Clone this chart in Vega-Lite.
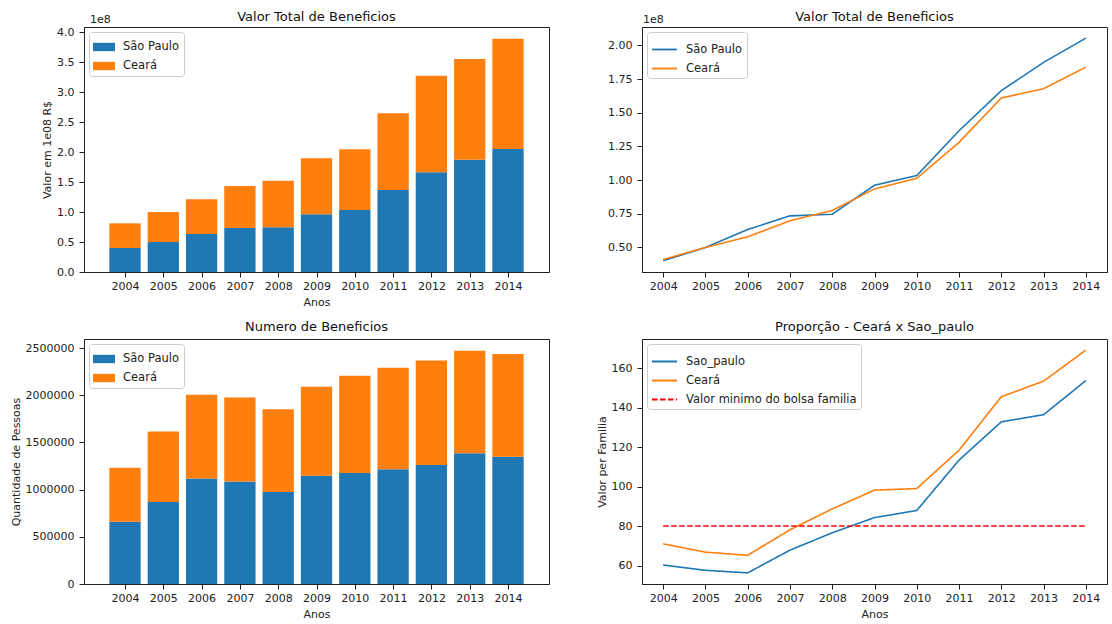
{
  "$schema": "https://vega.github.io/schema/vega-lite/v6.json",
  "background": "white",
  "padding": {"left": 9, "top": 10, "right": 5, "bottom": 2},
  "config": {
    "font": "DejaVu Sans",
    "view": {"stroke": "#222", "strokeWidth": 1},
    "axis": {"domainColor": "#222", "tickColor": "#222", "labelColor": "#222", "titleColor": "#222", "labelFont": "DejaVu Sans", "titleFont": "DejaVu Sans", "labelFontSize": 11, "titleFontSize": 11, "titleFontWeight": "normal", "tickSize": 5, "grid": false, "labelOverlap": false},
    "axisX": {"labelPadding": 3, "titlePadding": 5},
    "axisY": {"labelPadding": 5, "titlePadding": 4},
    "title": {"font": "DejaVu Sans", "fontSize": 13, "fontWeight": "normal", "color": "#111", "offset": 5, "anchor": "middle"},
    "legend": {"orient": "top-left", "offset": 5, "strokeColor": "#cccccc", "cornerRadius": 3, "padding": 4, "fillColor": "white", "labelFont": "DejaVu Sans", "labelFontSize": 11.5, "labelColor": "#222", "rowPadding": 2, "labelOffset": 8, "labelLimit": 0, "title": null}
  },
  "datasets": {
    "valor": [
      {"ano": 2004, "estado": "São Paulo", "valor": 40100000},
      {"ano": 2005, "estado": "São Paulo", "valor": 50000000},
      {"ano": 2006, "estado": "São Paulo", "valor": 63300000},
      {"ano": 2007, "estado": "São Paulo", "valor": 73500000},
      {"ano": 2008, "estado": "São Paulo", "valor": 74700000},
      {"ano": 2009, "estado": "São Paulo", "valor": 96200000},
      {"ano": 2010, "estado": "São Paulo", "valor": 103400000},
      {"ano": 2011, "estado": "São Paulo", "valor": 136700000},
      {"ano": 2012, "estado": "São Paulo", "valor": 166400000},
      {"ano": 2013, "estado": "São Paulo", "valor": 187400000},
      {"ano": 2014, "estado": "São Paulo", "valor": 205400000},
      {"ano": 2004, "estado": "Ceará", "valor": 41100000},
      {"ano": 2005, "estado": "Ceará", "valor": 50000000},
      {"ano": 2006, "estado": "Ceará", "valor": 57900000},
      {"ano": 2007, "estado": "Ceará", "valor": 69800000},
      {"ano": 2008, "estado": "Ceará", "valor": 77400000},
      {"ano": 2009, "estado": "Ceará", "valor": 93500000},
      {"ano": 2010, "estado": "Ceará", "valor": 101400000},
      {"ano": 2011, "estado": "Ceará", "valor": 128100000},
      {"ano": 2012, "estado": "Ceará", "valor": 161000000},
      {"ano": 2013, "estado": "Ceará", "valor": 167900000},
      {"ano": 2014, "estado": "Ceará", "valor": 183900000}
    ],
    "numero": [
      {"ano": 2004, "estado": "São Paulo", "quantidade": 659000},
      {"ano": 2005, "estado": "São Paulo", "quantidade": 868000},
      {"ano": 2006, "estado": "São Paulo", "quantidade": 1119000},
      {"ano": 2007, "estado": "São Paulo", "quantidade": 1087000},
      {"ano": 2008, "estado": "São Paulo", "quantidade": 974000},
      {"ano": 2009, "estado": "São Paulo", "quantidade": 1147000},
      {"ano": 2010, "estado": "São Paulo", "quantidade": 1176000},
      {"ano": 2011, "estado": "São Paulo", "quantidade": 1215000},
      {"ano": 2012, "estado": "São Paulo", "quantidade": 1261000},
      {"ano": 2013, "estado": "São Paulo", "quantidade": 1385000},
      {"ano": 2014, "estado": "São Paulo", "quantidade": 1349000},
      {"ano": 2004, "estado": "Ceará", "quantidade": 573000},
      {"ano": 2005, "estado": "Ceará", "quantidade": 747000},
      {"ano": 2006, "estado": "Ceará", "quantidade": 885000},
      {"ano": 2007, "estado": "Ceará", "quantidade": 889000},
      {"ano": 2008, "estado": "Ceará", "quantidade": 878000},
      {"ano": 2009, "estado": "Ceará", "quantidade": 942000},
      {"ano": 2010, "estado": "Ceará", "quantidade": 1030000},
      {"ano": 2011, "estado": "Ceará", "quantidade": 1076000},
      {"ano": 2012, "estado": "Ceará", "quantidade": 1108000},
      {"ano": 2013, "estado": "Ceará", "quantidade": 1087000},
      {"ano": 2014, "estado": "Ceará", "quantidade": 1087000}
    ],
    "proporcao": [
      {"ano": 2004, "serie": "Sao_paulo", "valor": 60.3},
      {"ano": 2005, "serie": "Sao_paulo", "valor": 57.6},
      {"ano": 2006, "serie": "Sao_paulo", "valor": 56.3},
      {"ano": 2007, "serie": "Sao_paulo", "valor": 67.8},
      {"ano": 2008, "serie": "Sao_paulo", "valor": 76.6},
      {"ano": 2009, "serie": "Sao_paulo", "valor": 84.3},
      {"ano": 2010, "serie": "Sao_paulo", "valor": 87.9},
      {"ano": 2011, "serie": "Sao_paulo", "valor": 113.4},
      {"ano": 2012, "serie": "Sao_paulo", "valor": 132.8},
      {"ano": 2013, "serie": "Sao_paulo", "valor": 136.4},
      {"ano": 2014, "serie": "Sao_paulo", "valor": 153.7},
      {"ano": 2004, "serie": "Ceará", "valor": 71.0},
      {"ano": 2005, "serie": "Ceará", "valor": 66.8},
      {"ano": 2006, "serie": "Ceará", "valor": 65.2},
      {"ano": 2007, "serie": "Ceará", "valor": 78.1},
      {"ano": 2008, "serie": "Ceará", "valor": 88.7},
      {"ano": 2009, "serie": "Ceará", "valor": 98.2},
      {"ano": 2010, "serie": "Ceará", "valor": 99.0},
      {"ano": 2011, "serie": "Ceará", "valor": 118.4},
      {"ano": 2012, "serie": "Ceará", "valor": 145.5},
      {"ano": 2013, "serie": "Ceará", "valor": 153.4},
      {"ano": 2014, "serie": "Ceará", "valor": 169.1},
      {"ano": 2004, "serie": "Valor minimo do bolsa familia", "valor": 80},
      {"ano": 2005, "serie": "Valor minimo do bolsa familia", "valor": 80},
      {"ano": 2006, "serie": "Valor minimo do bolsa familia", "valor": 80},
      {"ano": 2007, "serie": "Valor minimo do bolsa familia", "valor": 80},
      {"ano": 2008, "serie": "Valor minimo do bolsa familia", "valor": 80},
      {"ano": 2009, "serie": "Valor minimo do bolsa familia", "valor": 80},
      {"ano": 2010, "serie": "Valor minimo do bolsa familia", "valor": 80},
      {"ano": 2011, "serie": "Valor minimo do bolsa familia", "valor": 80},
      {"ano": 2012, "serie": "Valor minimo do bolsa familia", "valor": 80},
      {"ano": 2013, "serie": "Valor minimo do bolsa familia", "valor": 80},
      {"ano": 2014, "serie": "Valor minimo do bolsa familia", "valor": 80}
    ]
  },
  "columns": 2,
  "spacing": {"row": 67, "column": 93},
  "bounds": "flush",
  "resolve": {"scale": {"color": "independent", "strokeDash": "independent"}, "legend": {"color": "independent", "strokeDash": "independent"}},
  "concat": [
    {
      "width": 465,
      "height": 245,
      "title": {"text": "Valor Total de Beneficios", "offset": -10},
      "layer": [
        {
          "data": {"name": "valor"},
          "mark": {"type": "bar", "orient": "vertical", "size": 31.3},
          "encoding": {
            "x": {"field": "ano", "type": "quantitative", "scale": {"domain": [2003.06, 2014.94], "nice": false, "zero": false}, "axis": {"values": [2004, 2005, 2006, 2007, 2008, 2009, 2010, 2011, 2012, 2013, 2014], "format": "d", "title": "Anos"}},
            "y": {"field": "valor", "type": "quantitative", "stack": "zero", "scale": {"domain": [0, 408800000], "nice": false}, "axis": {"values": [0, 50000000, 100000000, 150000000, 200000000, 250000000, 300000000, 350000000, 400000000], "labelExpr": "format(datum.value / 1e8, '.1f')", "title": "Valor em 1e08 R$"}},
            "color": {"field": "estado", "type": "nominal", "scale": {"domain": ["São Paulo", "Ceará"], "range": ["#1f77b4", "#ff7f0e"]}, "legend": {"symbolType": "M-1,-0.38H1V0.38H-1Z", "symbolSize": 484, "symbolStrokeWidth": 0}},
            "order": {"field": "estado", "sort": "descending"}
          }
        },
        {
          "data": {"values": [{"t": "1e8"}]},
          "mark": {"type": "text", "align": "left", "baseline": "bottom", "fontSize": 11, "color": "#222", "dx": 1, "dy": -2},
          "encoding": {
            "x": {"datum": 2003.06, "type": "quantitative", "axis": {"values": [2004, 2005, 2006, 2007, 2008, 2009, 2010, 2011, 2012, 2013, 2014], "format": "d", "title": "Anos"}},
            "y": {"datum": 408800000, "type": "quantitative", "axis": {"values": [0, 50000000, 100000000, 150000000, 200000000, 250000000, 300000000, 350000000, 400000000], "labelExpr": "format(datum.value / 1e8, '.1f')", "title": "Valor em 1e08 R$"}},
            "text": {"field": "t"}
          }
        }
      ]
    },
    {
      "width": 465,
      "height": 245,
      "title": {"text": "Valor Total de Beneficios", "offset": -10},
      "layer": [
        {
          "data": {"name": "valor"},
          "mark": {"type": "line", "strokeWidth": 1.6},
          "encoding": {
            "x": {"field": "ano", "type": "quantitative", "scale": {"domain": [2003.5, 2014.5], "nice": false, "zero": false}, "axis": {"values": [2004, 2005, 2006, 2007, 2008, 2009, 2010, 2011, 2012, 2013, 2014], "format": "d", "title": null}},
            "y": {"field": "valor", "type": "quantitative", "scale": {"domain": [31800000, 213700000], "nice": false, "zero": false}, "axis": {"values": [50000000, 75000000, 100000000, 125000000, 150000000, 175000000, 200000000], "labelExpr": "format(datum.value / 1e8, '.2f')", "title": null}},
            "color": {"field": "estado", "type": "nominal", "scale": {"domain": ["São Paulo", "Ceará"], "range": ["#1f77b4", "#ff7f0e"]}, "legend": {"symbolType": "stroke", "symbolSize": 625, "symbolStrokeWidth": 1.8, "rowPadding": 0}}
          }
        },
        {
          "data": {"values": [{"t": "1e8"}]},
          "mark": {"type": "text", "align": "left", "baseline": "bottom", "fontSize": 11, "color": "#222", "dx": 1, "dy": -2},
          "encoding": {
            "x": {"datum": 2003.5, "type": "quantitative", "axis": {"values": [2004, 2005, 2006, 2007, 2008, 2009, 2010, 2011, 2012, 2013, 2014], "format": "d", "title": null}},
            "y": {"datum": 213700000, "type": "quantitative", "axis": {"values": [50000000, 75000000, 100000000, 125000000, 150000000, 175000000, 200000000], "labelExpr": "format(datum.value / 1e8, '.2f')", "title": null}},
            "text": {"field": "t"}
          }
        }
      ]
    },
    {
      "width": 465,
      "height": 245,
      "title": "Numero de Beneficios",
      "data": {"name": "numero"},
      "mark": {"type": "bar", "orient": "vertical", "size": 31.3},
      "encoding": {
        "x": {"field": "ano", "type": "quantitative", "scale": {"domain": [2003.06, 2014.94], "nice": false, "zero": false}, "axis": {"values": [2004, 2005, 2006, 2007, 2008, 2009, 2010, 2011, 2012, 2013, 2014], "format": "d", "title": "Anos"}},
        "y": {"field": "quantidade", "type": "quantitative", "stack": "zero", "scale": {"domain": [0, 2595600], "nice": false}, "axis": {"values": [0, 500000, 1000000, 1500000, 2000000, 2500000], "format": "d", "title": "Quantidade de Pessoas"}},
        "color": {"field": "estado", "type": "nominal", "scale": {"domain": ["São Paulo", "Ceará"], "range": ["#1f77b4", "#ff7f0e"]}, "legend": {"symbolType": "M-1,-0.38H1V0.38H-1Z", "symbolSize": 484, "symbolStrokeWidth": 0}},
        "order": {"field": "estado", "sort": "descending"}
      }
    },
    {
      "width": 465,
      "height": 245,
      "title": "Proporção - Ceará x Sao_paulo",
      "data": {"name": "proporcao"},
      "mark": {"type": "line", "strokeWidth": 1.6},
      "encoding": {
        "x": {"field": "ano", "type": "quantitative", "scale": {"domain": [2003.5, 2014.5], "nice": false, "zero": false}, "axis": {"values": [2004, 2005, 2006, 2007, 2008, 2009, 2010, 2011, 2012, 2013, 2014], "format": "d", "title": "Anos"}},
        "y": {"field": "valor", "type": "quantitative", "scale": {"domain": [50.66, 174.74], "nice": false, "zero": false}, "axis": {"values": [60, 80, 100, 120, 140, 160], "title": "Valor per Familia"}},
        "color": {"field": "serie", "type": "nominal", "scale": {"domain": ["Sao_paulo", "Ceará", "Valor minimo do bolsa familia"], "range": ["#1f77b4", "#ff7f0e", "#ff0000"]}, "legend": {"symbolType": "stroke", "symbolSize": 625, "symbolStrokeWidth": 1.8, "rowPadding": 0}},
        "strokeDash": {"field": "serie", "type": "nominal", "scale": {"domain": ["Sao_paulo", "Ceará", "Valor minimo do bolsa familia"], "range": [[1, 0], [1, 0], [5.5, 2.5]]}, "legend": {"symbolType": "stroke", "symbolSize": 625, "symbolStrokeWidth": 1.8, "rowPadding": 0}}
      }
    }
  ]
}
